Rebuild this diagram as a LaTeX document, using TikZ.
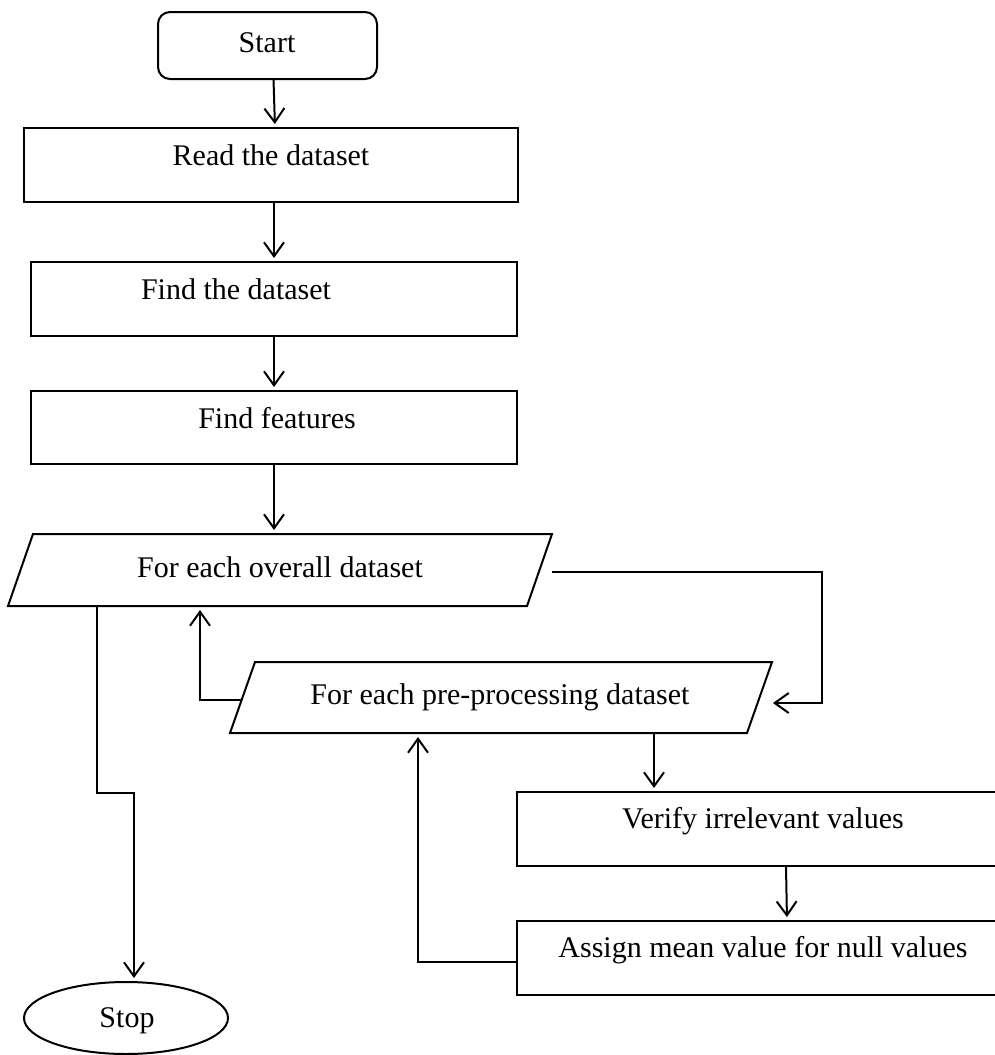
\documentclass[tikz,border=0pt]{standalone}
\usepackage{fontspec}
\setmainfont{Liberation Serif}
\usetikzlibrary{arrows.meta,shapes.geometric}

\begin{document}
\begin{tikzpicture}[x=1pt,y=-1pt,
  line width=2pt,
  every node/.style={inner sep=0pt, outer sep=0pt},
  box/.style={draw, rectangle, minimum height=74pt},
  parabox/.style={rectangle, minimum height=72pt},
  lbl/.style={font=\fontsize{30}{36}\selectfont, anchor=base},
  arr/.style={-{Straight Barb[length=14pt,width=20pt]}, shorten >=4pt}
]
\useasboundingbox (0,0) rectangle (995,1055);
\clip (0,0) rectangle (995,1055);

% process steps
\node[draw, rounded corners=12pt, minimum width=219pt, minimum height=67pt] (start) at (267.5,45.5) {};
\node[lbl] (startT) at (267,52) {Start};

\node[box, minimum width=494pt] (read) at (271,165) {};
\node[lbl] (readT) at (271,165) {Read the dataset};

\node[box, minimum width=486pt] (find1) at (274,299) {};
\node[lbl] (find1T) at (236,299) {Find the dataset};

\node[box, minimum width=486pt, minimum height=73pt] (find2) at (274,427.5) {};
\node[lbl] (find2T) at (277,428) {Find features};

% loops (parallelograms slanted by 25pt)
\node[parabox, minimum width=544pt] (overall) at (280,570) {};
\draw (overall.south west) -- ([xshift=-25pt]overall.south east) -- (overall.north east)
      -- ([xshift=25pt]overall.north west) -- cycle;
\node[lbl] (overallT) at (280,577) {For each overall dataset};

\node[parabox, minimum width=542pt, minimum height=71pt] (pre) at (501,697.5) {};
\draw (pre.south west) -- ([xshift=-25pt]pre.south east) -- (pre.north east)
      -- ([xshift=25pt]pre.north west) -- cycle;
\node[lbl] (preT) at (500,704) {For each pre-processing dataset};

% loop body
\node[box, minimum width=492pt] (verify) at (763,829) {};
\node[lbl] (verifyT) at (763,828) {Verify irrelevant values};

\node[box, minimum width=492pt] (assign) at (763,958) {};
\node[lbl] (assignT) at (763,957) {Assign mean value for null values};

% end
\node[draw, ellipse, minimum width=204pt, minimum height=72pt] (stop) at (126,1018) {};
\node[lbl] (stopT) at (127,1027) {Stop};

% connectors
\draw[arr] ([xshift=6pt]start.south) -- ([xshift=4pt]read.north);
\draw[arr] (read.south -| find1.north) -- (find1.north);
\draw[arr] (find1.south) -- (find2.north);
\draw[arr] (find2.south) -- (find2.south |- overall.north);

\coordinate (loopR) at (822,572);
\draw[arr] ([shift={(0,2)}]overall.east) -- (loopR) |- ([shift={(-3,5.5)}]pre.east);

\draw[arr] ([shift={(12,2.5)}]pre.west) -| ([xshift=-80pt]overall.south);

\coordinate (jog) at (134,793);
\draw[arr] ([xshift=-183pt]overall.south) |- (jog) -- (stop.north -| jog);

\draw[arr] ([xshift=153pt]pre.south) -- ([xshift=153pt]pre.south |- verify.north);
\draw[arr] ([xshift=23pt]verify.south) -- ([xshift=24pt]assign.north);
\draw[arr] ([yshift=-4pt]assign.west) -| ([xshift=-83pt]pre.south);
\end{tikzpicture}
\end{document}
